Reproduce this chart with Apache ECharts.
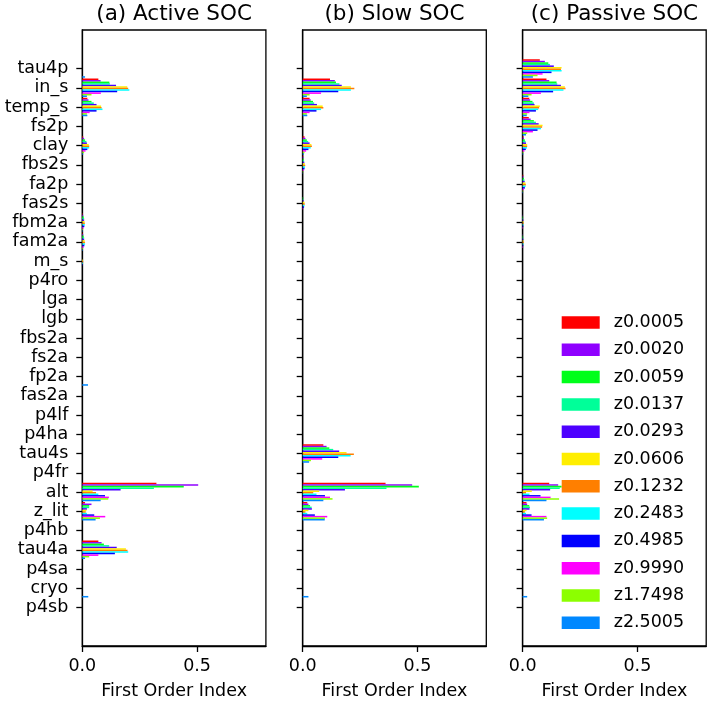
<!DOCTYPE html>
<html><head><meta charset="utf-8">
<script src="https://cdn.jsdelivr.net/npm/echarts@6/dist/echarts.min.js"></script>
<style>html,body{margin:0;padding:0;background:#fff}#c{width:709px;height:705px}</style>
</head><body><div id="c"></div>
<script>
// ---- categories / labels ----
const categories = ['tau4p','in_s','temp_s','fs2p','clay','fbs2s','fa2p','fas2s','fbm2a','fam2a','m_s','p4ro','lga','lgb','fbs2a','fs2a','fp2a','fas2a','p4lf','p4ha','tau4s','p4fr','alt','z_lit','p4hb','tau4a','p4sa','cryo','p4sb'];
const depths = ['z0.0005','z0.0020','z0.0059','z0.0137','z0.0293','z0.0606','z0.1232','z0.2483','z0.4985','z0.9990','z1.7498','z2.5005'];
const colors = ['#ff0000','#8f00ff','#00ff1a','#00ff99','#4d00ff','#ffee00','#ff7f00','#00ffff','#0000ff','#ff00ff','#8cff00','#0088ff'];
const panelTitles = ['(a) Active SOC','(b) Slow SOC','(c) Passive SOC'];
const xTickValues = [0, 0.5];
const xName = 'First Order Index';

// ---- values (one value per depth, order of `depths`) ----
// (a) Active SOC
const A_tau4p = [0,0,0,0,0,0,0,0,0,0,0,0.012];
const A_in_s  = [0.07,0.08,0.118,0.12,0.147,0.196,0.2,0.205,0.152,0.081,0.04,0.02];
const A_temp_s= [0.022,0.027,0.04,0.05,0.062,0.082,0.084,0.088,0.062,0.032,0.02,0.022];
const A_clay  = [0.004,0.008,0.012,0.018,0.02,0.028,0.03,0.03,0.022,0.014,0.008,0.004];
const A_fbm2a = [0.002,0.004,0.006,0.008,0.008,0.01,0.011,0.011,0.009,0.005,0.003,0.002];
const A_fam2a = [0.002,0.004,0.006,0.008,0.008,0.011,0.012,0.012,0.009,0.005,0.003,0.002];
const A_m_s   = [0,0,0,0,0,0.003,0.004,0.003,0.002,0,0,0];
const A_fp2a  = [0,0,0,0,0,0,0,0,0,0,0,0.025];
const A_alt   = [0.323,0.505,0.442,0.312,0.167,0.045,0.06,0.07,0.099,0.116,0.113,0.08];
const A_z_lit = [0.012,0.04,0.03,0.03,0.02,0.018,0.015,0.02,0.052,0.1,0.077,0.058];
const A_tau4a = [0.07,0.084,0.094,0.117,0.15,0.19,0.197,0.2,0.142,0.07,0.03,0.012];
const A_cryo  = [0,0,0,0,0,0,0,0,0,0,0,0.026];
// (b) Slow SOC
const B_in_s  = [0.119,0.14,0.145,0.16,0.17,0.21,0.225,0.21,0.155,0.08,0.03,0.018];
const B_temp_s= [0.03,0.035,0.045,0.05,0.062,0.087,0.09,0.08,0.06,0.03,0.018,0.02];
const B_clay  = [0.008,0.012,0.018,0.024,0.03,0.038,0.04,0.035,0.025,0.015,0.008,0.005];
const B_fbs2s = [0.002,0.003,0.004,0.006,0.007,0.01,0.011,0.01,0.008,0.004,0.002,0.001];
const B_fas2s = [0,0,0.002,0.003,0.004,0.008,0.009,0.008,0.006,0.002,0,0];
const B_tau4s = [0.09,0.104,0.116,0.133,0.159,0.191,0.223,0.209,0.155,0.085,0.036,0.028];
const B_alt   = [0.361,0.477,0.506,0.365,0.184,0.072,0.046,0.06,0.097,0.119,0.13,0.09];
const B_z_lit = [0.02,0.025,0.032,0.039,0.04,0.025,0.012,0.02,0.053,0.107,0.097,0.096];
const B_cryo  = [0,0,0,0,0,0,0,0,0,0,0,0.025];
// (c) Passive SOC
const C_tau4p = [0.075,0.097,0.112,0.119,0.136,0.17,0.167,0.17,0.126,0.087,0.065,0.045];
const C_in_s  = [0.104,0.116,0.148,0.151,0.167,0.184,0.187,0.178,0.133,0.08,0.039,0.025];
const C_temp_s= [0.029,0.033,0.043,0.049,0.052,0.075,0.072,0.068,0.058,0.03,0.02,0.018];
const C_fs2p  = [0.027,0.035,0.049,0.058,0.07,0.087,0.085,0.08,0.065,0.045,0.02,0.015];
const C_clay  = [0.004,0.006,0.01,0.013,0.015,0.02,0.02,0.019,0.014,0.008,0.004,0.003];
const C_fa2p  = [0.003,0.004,0.006,0.008,0.009,0.013,0.014,0.013,0.01,0.006,0.003,0.002];
const C_fbm2a = [0,0.001,0.002,0.002,0.003,0.004,0.004,0.004,0.003,0.002,0,0];
const C_fam2a = [0,0.001,0.002,0.003,0.003,0.004,0.005,0.004,0.003,0.002,0,0];
const C_alt   = [0.116,0.155,0.17,0.162,0.12,0.04,0.015,0.03,0.078,0.122,0.159,0.104];
const C_z_lit = [0.017,0.02,0.029,0.032,0.03,0.017,0.01,0.015,0.039,0.104,0.107,0.093];
const C_cryo  = [0,0,0,0,0,0,0,0,0,0,0,0.02];

const panelRows = [
  {tau4p:A_tau4p, in_s:A_in_s, temp_s:A_temp_s, clay:A_clay, fbm2a:A_fbm2a, fam2a:A_fam2a, m_s:A_m_s, fp2a:A_fp2a, alt:A_alt, z_lit:A_z_lit, tau4a:A_tau4a, cryo:A_cryo},
  {in_s:B_in_s, temp_s:B_temp_s, clay:B_clay, fbs2s:B_fbs2s, fas2s:B_fas2s, tau4s:B_tau4s, alt:B_alt, z_lit:B_z_lit, cryo:B_cryo},
  {tau4p:C_tau4p, in_s:C_in_s, temp_s:C_temp_s, fs2p:C_fs2p, clay:C_clay, fa2p:C_fa2p, fbm2a:C_fbm2a, fam2a:C_fam2a, alt:C_alt, z_lit:C_z_lit, cryo:C_cryo}
];

// ---- layout ----
const FONT = 'DejaVu Sans';
const FS = 17.5, FS_TITLE = 21.5;
const PAD_TOP = 2, PAD_BOTTOM = 2;
const padNames = (n, tag) => Array.from({length:n}, (_, i) => tag + '\u200b'.repeat(i + 1));
const yCats = [...padNames(PAD_TOP, '\u200c'), ...categories, ...padNames(PAD_BOTTOM, '\u200d')];
const isReal = idx => idx >= PAD_TOP && idx < PAD_TOP + categories.length;
const gridLefts = [82.3, 302.7, 522.6];
const gridW = 183.6, gridTop = 30, gridH = 620;

const grids = [], xAxes = [], yAxes = [], titles = [], series = [];
for (let p = 0; p < 3; p++) {
  grids.push({left: gridLefts[p], top: gridTop, width: gridW, height: gridH, show: true, borderColor: '#000', borderWidth: 1.3, backgroundColor: 'transparent'});
  xAxes.push({
    gridIndex: p, type: 'value', min: 0, max: 0.8, interval: 0.5,
    axisLine: {show: true, onZero: false, lineStyle: {color: '#000', width: 1.3}},
    axisTick: {show: true, length: 6, customValues: xTickValues, lineStyle: {color: '#000', width: 1.3}},
    axisLabel: {customValues: xTickValues, formatter: v => Number(v).toFixed(1), margin: 11, fontSize: FS, color: '#000', fontFamily: FONT},
    splitLine: {show: false},
    name: xName, nameLocation: 'middle', nameGap: 36,
    nameTextStyle: {fontSize: FS, color: '#000', fontFamily: FONT}
  });
  yAxes.push({
    gridIndex: p, type: 'category', data: yCats, inverse: true, boundaryGap: false,
    axisLine: {show: true, lineStyle: {color: '#000', width: 1.3}},
    axisTick: {show: true, length: 6, interval: (i) => isReal(i), lineStyle: {color: '#000', width: 1.3}},
    axisLabel: {show: p === 0, interval: (i) => isReal(i), margin: 14, fontSize: FS, color: '#000', fontFamily: FONT},
    splitLine: {show: false}
  });
  titles.push({
    text: panelTitles[p], left: gridLefts[p] + gridW / 2, top: 3, textAlign: 'center', padding: 0,
    textStyle: {fontSize: FS_TITLE, fontWeight: 'normal', color: '#000', fontFamily: FONT}
  });
  const rows = panelRows[p];
  for (let k = 0; k < depths.length; k++) {
    series.push({
      type: 'bar', name: depths[k], xAxisIndex: p, yAxisIndex: p,
      data: yCats.map((c, i) => isReal(i) ? (rows[c] ? rows[c][k] : 0) : null),
      itemStyle: {color: colors[k]},
      barGap: '0%', barCategoryGap: '4%',
      silent: true, animation: false
    });
  }
}

const chart = echarts.init(document.getElementById('c'), null, {renderer: 'canvas'});
chart.setOption({
  animation: false,
  backgroundColor: '#fff',
  title: titles,
  grid: grids, xAxis: xAxes, yAxis: yAxes,
  legend: {
    data: depths, orient: 'vertical', left: 561.7, top: 313.5, padding: 0,
    itemWidth: 38, itemHeight: 12.5, itemGap: 9.3, icon: 'rect', selectedMode: false,
    textStyle: {fontSize: FS, lineHeight: 17, color: '#000', fontFamily: FONT, padding: [0, 0, 0, 9]}
  },
  series: series
});
</script></body></html>
